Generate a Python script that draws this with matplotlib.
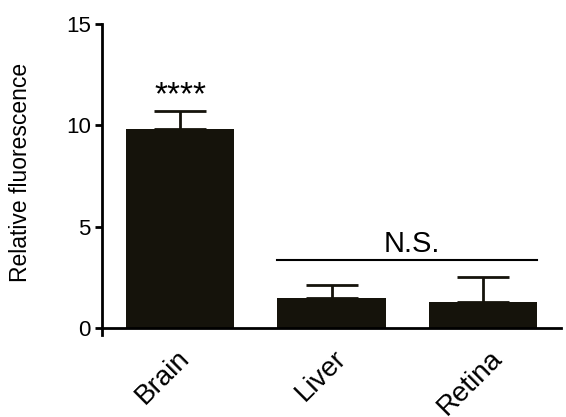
import numpy as np
import matplotlib.pyplot as plt
from matplotlib.transforms import ScaledTranslation

plt.rcParams['font.family'] = ['Liberation Sans', 'DejaVu Sans']

# data
tissues = ['Brain', 'Liver', 'Retina']
means = [9.82, 1.48, 1.28]
sem = [0.88, 0.64, 1.24]

bar_color = '#15130b'
width = 0.713

fig = plt.figure(figsize=(5.66, 4.17), dpi=100)
ax = fig.add_axes([0.1802, 0.1966, 0.811, 0.746])

for s in ['top', 'right']:
    ax.spines[s].set_visible(False)
ax.spines['bottom'].set_position(('data', 0))
ax.spines['left'].set_linewidth(2)
ax.spines['bottom'].set_linewidth(2)

x = np.arange(len(tissues))
ax.bar(x, means, width=width, color=bar_color, zorder=2)
ax.errorbar(x, means, yerr=[np.zeros(len(sem)), sem], fmt='none',
            ecolor=bar_color, elinewidth=2, capsize=18.7, capthick=2, zorder=1)

ax.set_xlim(-0.515, 2.515)
ax.set_ylim(-0.35, 15)
ax.set_yticks([0, 5, 10, 15])
ax.set_xticks(x)
ax.set_xticklabels(tissues, rotation=45, ha='right', va='center',
                   rotation_mode='anchor', fontsize=20)
ax.tick_params(axis='y', length=5, width=2, labelsize=16, pad=3)
ax.tick_params(axis='x', length=0, pad=19)

# nudge the rotated labels a bit to the right like in the original
for lbl, dx in zip(ax.get_xticklabels(), [4, 8, 11]):
    lbl.set_transform(lbl.get_transform() + ScaledTranslation(dx / 72, 0, fig.dpi_scale_trans))

ax.set_ylabel('Relative fluorescence', fontsize=16.5)
ax.yaxis.set_label_coords(-0.1525, 0.524)

# significance marks
ax.text(0, 11.05, '****', ha='center', va='baseline', fontsize=24)
ax.plot([1 - width / 2, 2 + width / 2], [3.35, 3.35], color='black', lw=1.5)
ax.text(1.53, 3.75, 'N.S.', ha='center', va='baseline', fontsize=21)

fig.savefig('out.png', dpi=100)
